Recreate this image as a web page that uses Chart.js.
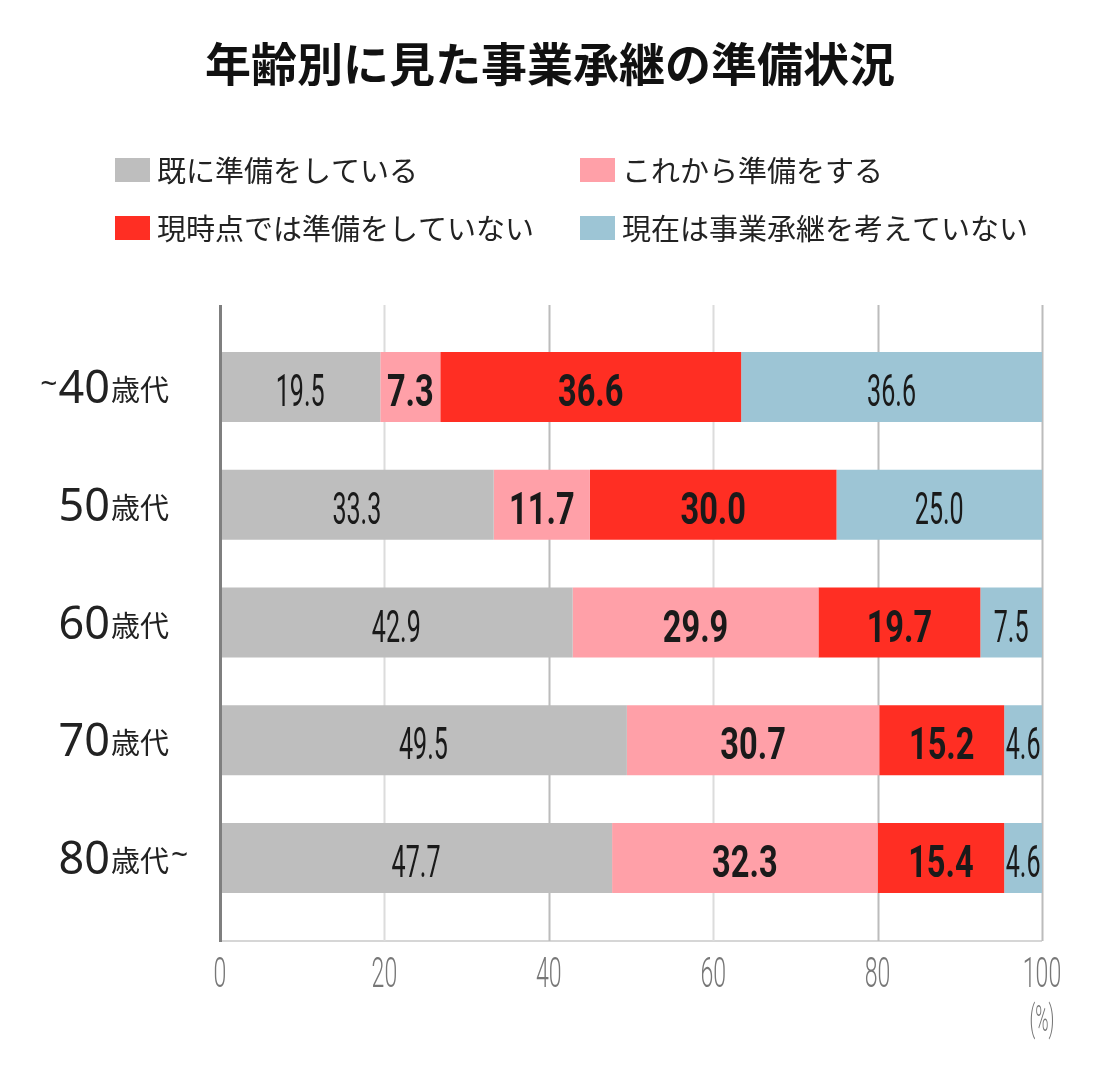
<!DOCTYPE html>
<html lang="ja">
<head>
<meta charset="utf-8">
<title>年齢別に見た事業承継の準備状況</title>
<script src="https://cdn.jsdelivr.net/npm/chart.js@4/dist/chart.umd.min.js"></script>
<style>
  html, body { margin: 0; padding: 0; background: #fff; }
  #Chart { display: block; }
</style>
</head>
<body>
<canvas id="Chart" width="1100" height="1070"></canvas>
<script>
// データ
const chartTitle = '年齢別に見た事業承継の準備状況';
const ageLabels = ['~40歳代', '50歳代', '60歳代', '70歳代', '80歳代~'];
const seriesNames = ['既に準備をしている', 'これから準備をする', '現時点では準備をしていない', '現在は事業承継を考えていない'];
const alreadyPrepared = [19.5, 33.3, 42.9, 49.5, 47.7];
const willPrepare = [7.3, 11.7, 29.9, 30.7, 32.3];
const notPreparing = [36.6, 30.0, 19.7, 15.2, 15.4];
const notConsidering = [36.6, 25.0, 7.5, 4.6, 4.6];
const xTicks = [0, 20, 40, 60, 80, 100];
const unitLabel = '(%)';

const seriesColors = ['#bebebe', '#ffa0a8', '#ff2e23', '#9dc5d5'];
const boldLabel = [false, true, true, false];

var myChart;

// 横に縮めた文字を描く
function drawNarrow(ctx, text, x, y, font, sx, color) {
    ctx.save();
    ctx.font = font;
    ctx.fillStyle = color;
    ctx.textAlign = 'center';
    ctx.textBaseline = 'alphabetic';
    ctx.translate(x, y);
    ctx.scale(sx, 1);
    ctx.fillText(text, 0, 0);
    ctx.restore();
}

const decorPlugin = {
    id: 'decor',
    beforeDatasetsDraw(chart) {
        const ctx = chart.ctx;
        const xs = chart.scales.x;
        const area = chart.chartArea;
        const top = area.top - 23;
        const bottom = area.bottom + 24;
        ctx.save();
        // 下の軸線
        ctx.strokeStyle = '#d6d6d6';
        ctx.lineWidth = 2;
        ctx.beginPath();
        ctx.moveTo(area.left, bottom);
        ctx.lineTo(area.right, bottom);
        ctx.stroke();
        // 縦のグリッド線
        xTicks.forEach(function (t) {
            if (t === 0) return;
            const x = Math.round(xs.getPixelForValue(t)) + 0.5;
            ctx.strokeStyle = (t === 20 || t === 60) ? '#dcdcdc' : '#bcbcbc';
            ctx.lineWidth = 2;
            ctx.beginPath();
            ctx.moveTo(x, top);
            ctx.lineTo(x, bottom);
            ctx.stroke();
        });
        ctx.restore();
    },
    afterDatasetsDraw(chart) {
        const ctx = chart.ctx;
        const xs = chart.scales.x;
        const area = chart.chartArea;
        // 左の軸線
        ctx.save();
        ctx.strokeStyle = '#7f7f7f';
        ctx.lineWidth = 3;
        const x0 = xs.getPixelForValue(0) + 0.5;
        ctx.beginPath();
        ctx.moveTo(x0, area.top - 23);
        ctx.lineTo(x0, area.bottom + 25);
        ctx.stroke();
        ctx.restore();

        // 棒の中の数値
        chart.data.datasets.forEach(function (ds, di) {
            const meta = chart.getDatasetMeta(di);
            meta.data.forEach(function (bar, i) {
                const cx = (bar.x + bar.base) / 2;
                const text = ds.data[i].toFixed(1);
                if (boldLabel[di]) {
                    drawNarrow(ctx, text, cx, bar.y + 19, 'bold 44px Roboto, "Liberation Sans", sans-serif', 0.74, '#1a1a1a');
                } else {
                    drawNarrow(ctx, text, cx, bar.y + 19, '44px Roboto, "Liberation Sans", sans-serif', 0.57, '#1a1a1a');
                }
            });
        });
    },
    afterDraw(chart) {
        const ctx = chart.ctx;
        const xs = chart.scales.x;
        const ys = chart.scales.y;
        const area = chart.chartArea;

        // タイトル
        ctx.save();
        ctx.font = 'bold 46px "Noto Sans CJK JP", sans-serif';
        ctx.fillStyle = '#111';
        ctx.textAlign = 'center';
        ctx.textBaseline = 'middle';
        ctx.fillText(chartTitle, 550, 64);
        ctx.restore();

        // 凡例 (2列)
        ctx.save();
        ctx.font = '29px "Noto Sans CJK JP", sans-serif';
        ctx.textBaseline = 'middle';
        ctx.textAlign = 'left';
        const legendX = [115, 580];
        const legendY = [170, 228];
        seriesNames.forEach(function (name, i) {
            const lx = legendX[i % 2];
            const ly = legendY[Math.floor(i / 2)];
            ctx.fillStyle = seriesColors[i];
            ctx.fillRect(lx, ly - 12, 35, 24);
            ctx.fillStyle = '#222';
            ctx.fillText(name, lx + 42, ly + 1);
        });
        ctx.restore();

        // 縦軸ラベル (数字は大きく、「歳代」は小さく)
        ctx.save();
        ctx.fillStyle = '#222';
        ctx.textBaseline = 'alphabetic';
        ageLabels.forEach(function (label, i) {
            const m = label.match(/^(~?)(\d+)(歳代)(~?)$/);
            const cy = ys.getPixelForValue(i);
            const unitRight = 169;
            ctx.font = '29px "Noto Sans CJK JP", sans-serif';
            ctx.textAlign = 'right';
            ctx.fillText(m[3], unitRight, cy + 14);
            const unitW = ctx.measureText(m[3]).width;
            ctx.font = '45px "Noto Sans", sans-serif';
            ctx.fillText(m[2], unitRight - unitW - 1, cy + 16);
            const numW = ctx.measureText(m[2]).width;
            ctx.font = '30px "Noto Sans", sans-serif';
            if (m[1]) {
                ctx.textAlign = 'right';
                ctx.fillText(m[1], unitRight - unitW - numW - 2, cy + 7);
            }
            if (m[4]) {
                ctx.textAlign = 'left';
                ctx.fillText(m[4], unitRight + 2, cy + 7);
            }
        });
        ctx.restore();

        // 横軸の目盛ラベル
        xTicks.forEach(function (t) {
            drawNarrow(ctx, String(t), xs.getPixelForValue(t), area.bottom + 70, '300 42px Roboto, sans-serif', 0.55, '#777');
        });
        drawNarrow(ctx, unitLabel, xs.getPixelForValue(100), area.bottom + 114, '300 36px Roboto, sans-serif', 0.5, '#777');
    }
};

function letsgo() {
    const values = [alreadyPrepared, willPrepare, notPreparing, notConsidering];
    const datasets = [];
    for (var i = 0; i < seriesNames.length; i++) {
        datasets.push({
            label: seriesNames[i],
            data: values[i],
            backgroundColor: seriesColors[i],
            borderWidth: 0,
            barPercentage: 0.594,
            categoryPercentage: 1.0
        });
    }
    const config = {
        type: 'bar',
        data: {
            labels: ageLabels,
            datasets: datasets
        },
        options: {
            indexAxis: 'y',
            responsive: false,
            animation: false,
            layout: {
                padding: { left: 220, right: 58, top: 328, bottom: 153 }
            },
            plugins: {
                legend: { display: false },
                title: { display: false },
                tooltip: { enabled: false }
            },
            scales: {
                x: { stacked: true, min: 0, max: 100, display: false },
                y: { stacked: true, display: false }
            }
        },
        plugins: [decorPlugin]
    };
    myChart = new Chart(document.getElementById('Chart'), config);
}

document.addEventListener("DOMContentLoaded", letsgo);
</script>
</body>
</html>
